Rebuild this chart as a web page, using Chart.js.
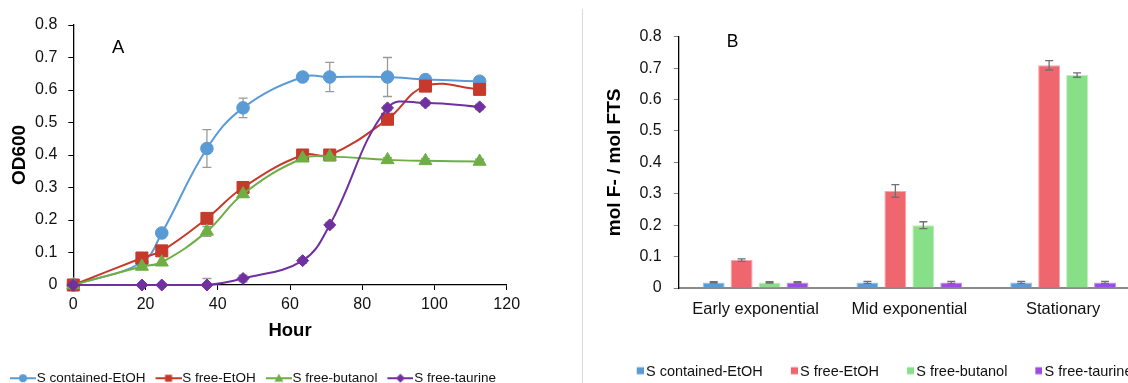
<!DOCTYPE html>
<html>
<head>
<meta charset="utf-8">
<script src="https://cdn.jsdelivr.net/npm/chart.js@4.4.1/dist/chart.umd.min.js"></script>
<style>
    html, body { margin: 0; padding: 0; background: #fff; }
    body { width: 1128px; height: 383px; overflow: hidden; position: relative; }
    #growth { position: absolute; left: 0; top: 0; }
    #fluoride { position: absolute; left: 590px; top: 0; }
    .divider { position: absolute; left: 582px; top: 9px; width: 1px; height: 374px; background: #dadada; }
</style>
</head>
<body>
<canvas id="growth" width="560" height="395"></canvas>
<div class="divider"></div>
<canvas id="fluoride" width="600" height="389"></canvas>
<script>
// series shared by both panels
const seriesNames = ["S contained-EtOH", "S free-EtOH", "S free-butanol", "S free-taurine"];

// panel A: growth (OD600) over time
const hours = [0, 19, 24.5, 37, 47, 63.5, 71, 87, 97.5, 112.5];
const odContainedEtOH = [0, 0.07, 0.16, 0.42, 0.545, 0.64, 0.64, 0.64, 0.632, 0.627];
const odFreeEtOH = [0, 0.083, 0.105, 0.205, 0.30, 0.40, 0.40, 0.51, 0.612, 0.602];
const odFreeButanol = [0, 0.057, 0.07, 0.165, 0.28, 0.39, 0.395, 0.385, 0.382, 0.38];
const odFreeTaurine = [0, 0, 0, 0, 0.02, 0.075, 0.185, 0.545, 0.56, 0.548];
const odErrContainedEtOH = [0, 0, 0, 0.058, 0.03, 0.012, 0.045, 0.06, 0.008, 0.008];
const odErrFreeEtOH = [0, 0, 0, 0.015, 0.01, 0.005, 0.005, 0.01, 0.008, 0.008];
const odErrFreeButanol = [0, 0, 0, 0.015, 0.01, 0.005, 0.005, 0.007, 0.007, 0.007];
const odErrFreeTaurine = [0, 0, 0, 0.02, 0.01, 0.008, 0.008, 0.008, 0.008, 0.008];

// panel B: fluoride released per growth phase
const phases = ["Early exponential", "Mid exponential", "Stationary"];
const fContainedEtOH = [0.018, 0.018, 0.018];
const fFreeEtOH = [0.089, 0.309, 0.709];
const fFreeButanol = [0.018, 0.20, 0.678];
const fFreeTaurine = [0.018, 0.018, 0.018];
const fErrContainedEtOH = [0.002, 0.003, 0.003];
const fErrFreeEtOH = [0.004, 0.02, 0.015];
const fErrFreeButanol = [0.002, 0.011, 0.007];
const fErrFreeTaurine = [0.002, 0.003, 0.003];

(function () {

    const family = '"Liberation Sans", Arial, Helvetica, sans-serif';
    Chart.defaults.font.family = family;
    Chart.defaults.color = "#000";

    const lineColors = ["#5b9bd5", "#c6392b", "#6fae45", "#7030a0"];
    const pointStyles = ["circle", "rect", "triangle", "rectRot"];
    const pointSizes = [6.3, 8.5, 7.5, 6];
    const barColors = ["#5b9bd5", "#f0666e", "#87df87", "#9d4be3"];
    const barEdges = ["#9cc2e8", "#f7a6ab", "#c0efc0", "#c597f0"];

    // vertical error bars drawn from each dataset's "errors" array
    const errorBarPlugin = {
        id: "errorBars",
        beforeDatasetsDraw(chart, args, opts) { if (!opts.onTop) drawErrorBars(chart, opts); },
        afterDatasetsDraw(chart, args, opts) { if (opts.onTop) drawErrorBars(chart, opts); }
    };

    function drawErrorBars(chart, opts) {
        const ctx = chart.ctx;
        const yScale = chart.scales.y;
        const area = chart.chartArea;
        ctx.save();
        ctx.beginPath();
        ctx.rect(area.left, area.top - 20, area.right - area.left, area.bottom - area.top + 20);
        ctx.clip();
        ctx.strokeStyle = opts.color;
        ctx.lineWidth = opts.width;
        chart.data.datasets.forEach((ds, i) => {
            if (!ds.errors) return;
            const meta = chart.getDatasetMeta(i);
            meta.data.forEach((el, j) => {
                const err = ds.errors[j];
                if (!err) return;
                const raw = ds.data[j];
                const v = typeof raw === "number" ? raw : raw.y;
                const top = yScale.getPixelForValue(v + err);
                const bottom = yScale.getPixelForValue(v - err);
                ctx.beginPath();
                ctx.moveTo(el.x, top); ctx.lineTo(el.x, bottom);
                ctx.moveTo(el.x - opts.cap, top); ctx.lineTo(el.x + opts.cap, top);
                ctx.moveTo(el.x - opts.cap, bottom); ctx.lineTo(el.x + opts.cap, bottom);
                ctx.stroke();
            });
        });
        ctx.restore();
    }

    // the "A" / "B" panel letter, placed in data coordinates
    const panelLabelPlugin = {
        id: "panelLabel",
        afterDraw(chart, args, opts) {
            const ctx = chart.ctx;
            ctx.save();
            ctx.font = opts.font;
            ctx.fillStyle = "#000";
            ctx.textAlign = "center";
            ctx.textBaseline = "middle";
            ctx.fillText(opts.text, chart.scales.x.getPixelForValue(opts.x), chart.scales.y.getPixelForValue(opts.y));
            ctx.restore();
        }
    };

    // line + marker legend symbol, sitting in the right 26px of the image
    function makeLineSymbol(color, style) {
        const c = document.createElement("canvas");
        c.width = 40; c.height = 14;
        const g = c.getContext("2d");
        g.strokeStyle = color; g.fillStyle = color; g.lineWidth = 2;
        g.beginPath(); g.moveTo(14, 7); g.lineTo(40, 7); g.stroke();
        g.beginPath();
        if (style === "circle") g.arc(27, 7, 4, 0, Math.PI * 2);
        else if (style === "rect") g.rect(23.5, 3.5, 7, 7);
        else if (style === "triangle") { g.moveTo(27, 2.5); g.lineTo(31.5, 10.5); g.lineTo(22.5, 10.5); g.closePath(); }
        else { g.moveTo(27, 2.5); g.lineTo(31.5, 7); g.lineTo(27, 11.5); g.lineTo(22.5, 7); g.closePath(); }
        g.fill();
        return c;
    }

    function makeBoxSymbol(color) {
        const c = document.createElement("canvas");
        c.width = 38; c.height = 12;
        const g = c.getContext("2d");
        g.fillStyle = color;
        g.fillRect(31, 1.5, 7, 7);
        return c;
    }

    function legendItems(chart, symbolFor) {
        return chart.data.datasets.map((ds, i) => ({
            text: ds.label,
            pointStyle: symbolFor(i),
            fillStyle: "transparent",
            strokeStyle: "transparent",
            lineWidth: 0,
            hidden: false,
            datasetIndex: i,
            fontColor: "#111"
        }));
    }

    function createGrowthChart(elemId) {
        const values = [odContainedEtOH, odFreeEtOH, odFreeButanol, odFreeTaurine];
        const errors = [odErrContainedEtOH, odErrFreeEtOH, odErrFreeButanol, odErrFreeTaurine];

        const datasets = values.map((series, i) => ({
            label: seriesNames[i],
            data: series.map((v, j) => ({ x: hours[j], y: v })),
            errors: errors[i],
            borderColor: lineColors[i],
            backgroundColor: lineColors[i],
            borderWidth: 2,
            tension: 0.4,
            pointStyle: pointStyles[i],
            pointRadius: pointSizes[i],
            pointBackgroundColor: lineColors[i],
            pointBorderColor: lineColors[i],
            pointBorderWidth: 1,
            clip: false,
            order: 3 - i
        }));

        return new Chart(document.getElementById(elemId), {
            type: "line",
            data: { datasets: datasets },
            options: {
                responsive: false,
                animation: false,
                devicePixelRatio: 1,
                layout: { padding: { left: 0, right: 53.3, top: 25, bottom: 0 } },
                plugins: {
                    tooltip: { enabled: false },
                    legend: {
                        position: "bottom",
                        align: "start",
                        labels: {
                            usePointStyle: true,
                            pointStyleWidth: 28,
                            padding: 2,
                            font: { size: 13.5 },
                            color: "#111",
                            generateLabels: chart => legendItems(chart, i => makeLineSymbol(lineColors[i], pointStyles[i]))
                        }
                    },
                    errorBars: { onTop: false, color: "#9a9a9a", width: 1.3, cap: 4.5 },
                    panelLabel: { text: "A", x: 12.4, y: 0.729, font: "18.5px " + family }
                },
                scales: {
                    x: {
                        type: "linear",
                        min: 0,
                        max: 120,
                        ticks: { stepSize: 20, padding: 5.4, font: { size: 16 }, color: "#111" },
                        grid: { drawOnChartArea: false, tickLength: 5, color: "#000" },
                        border: { color: "#000", width: 1.3 },
                        title: { display: true, text: "Hour", color: "#000", font: { size: 18.5, weight: "bold" }, padding: { top: 0, bottom: 27.9 } },
                        afterFit: s => { s.height = 84.5; }
                    },
                    y: {
                        min: 0,
                        max: 0.8,
                        ticks: { stepSize: 0.1, padding: 11, font: { size: 16 }, color: "#111" },
                        grid: { drawOnChartArea: false, tickLength: 5, color: "#000" },
                        border: { color: "#000", width: 1.3 },
                        title: { display: true, text: "OD600", color: "#000", font: { size: 19, weight: "bold" }, padding: { top: 8.6, bottom: 0 } },
                        afterFit: s => { s.width = 73.3; }
                    }
                }
            },
            plugins: [errorBarPlugin, panelLabelPlugin]
        });
    }

    function createFluorideChart(elemId) {
        const values = [fContainedEtOH, fFreeEtOH, fFreeButanol, fFreeTaurine];
        const errors = [fErrContainedEtOH, fErrFreeEtOH, fErrFreeButanol, fErrFreeTaurine];

        const datasets = values.map((series, i) => ({
            label: seriesNames[i],
            data: series,
            errors: errors[i],
            backgroundColor: barColors[i],
            borderColor: barEdges[i],
            borderWidth: 1,
            categoryPercentage: 0.727,
            barPercentage: 0.786
        }));

        return new Chart(document.getElementById(elemId), {
            type: "bar",
            data: { labels: phases, datasets: datasets },
            options: {
                responsive: false,
                animation: false,
                devicePixelRatio: 1,
                layout: { padding: { left: 18.7, right: 50, top: 36.7, bottom: 0 } },
                plugins: {
                    tooltip: { enabled: false },
                    legend: {
                        position: "bottom",
                        align: "start",
                        labels: {
                            usePointStyle: true,
                            pointStyleWidth: 28,
                            padding: 2,
                            font: { size: 14.5 },
                            color: "#111",
                            generateLabels: chart => legendItems(chart, i => makeBoxSymbol(barColors[i]))
                        }
                    },
                    errorBars: { onTop: true, color: "#707070", width: 1.3, cap: 4 },
                    panelLabel: { text: "B", x: -0.15, y: 0.7825, font: "17.5px " + family }
                },
                scales: {
                    x: {
                        ticks: { padding: 11.1, font: { size: 16.5 }, color: "#111" },
                        grid: { display: false, drawTicks: false },
                        border: { color: "#8a8a8a", width: 2 },
                        afterFit: s => { s.height = 74.45; }
                    },
                    y: {
                        min: 0,
                        max: 0.8,
                        ticks: { stepSize: 0.1, padding: 12, font: { size: 16 }, color: "#111" },
                        grid: { drawOnChartArea: false, tickLength: 5, color: "#808080" },
                        border: { color: "#000", width: 1.3 },
                        title: { display: true, text: "mol F- / mol FTS", color: "#000", font: { size: 19, weight: "bold" }, padding: { top: -5.7, bottom: 0 } },
                        afterFit: s => { s.width = 70; }
                    }
                }
            },
            plugins: [errorBarPlugin, panelLabelPlugin]
        });
    }

    createGrowthChart("growth");
    createFluorideChart("fluoride");
})();
</script>
</body>
</html>
